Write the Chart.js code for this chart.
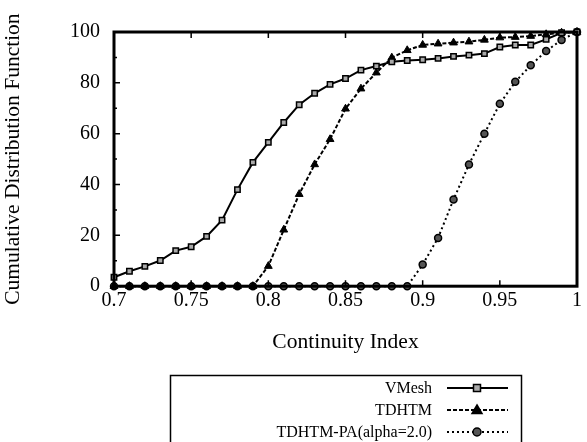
<!DOCTYPE html>
<html>
<head>
<meta charset="utf-8">
<script src="https://cdn.jsdelivr.net/npm/chart.js@4.4.0/dist/chart.umd.min.js"></script>
<style>
html,body{margin:0;padding:0;background:#fff;}
#wrap{width:587px;height:442px;position:relative;}
</style>
</head>
<body>
<div id="wrap"><canvas id="c" width="587" height="442"></canvas></div>
<script>
const xValues = [0.70,0.71,0.72,0.73,0.74,0.75,0.76,0.77,0.78,0.79,0.80,0.81,0.82,0.83,0.84,0.85,0.86,0.87,0.88,0.89,0.90,0.91,0.92,0.93,0.94,0.95,0.96,0.97,0.98,0.99,1.00];
const vmesh = [3.5,5.9,7.8,10.1,14.0,15.5,19.6,26.0,38.0,48.7,56.6,64.4,71.4,75.9,79.4,81.7,85.0,86.6,88.3,88.8,89.1,89.6,90.4,90.9,91.5,94.1,94.9,94.9,97.1,99.7,100];
const tdhtm = [0,0,0,0,0,0,0,0,0,0,7.9,22.2,36.2,47.9,57.8,69.8,77.7,84.0,89.9,92.8,94.9,95.4,95.8,96.2,96.9,97.8,98.0,98.4,99.1,99.7,100];
const tdhtmPa = [0,0,0,0,0,0,0,0,0,0,0,0,0,0,0,0,0,0,0,0,8.5,19.0,34.1,47.9,60.0,71.8,80.4,86.9,92.5,96.9,100];
const seriesNames = ['VMesh','TDHTM','TDHTM-PA(alpha=2.0)'];
const xTicks = [0.7,0.75,0.8,0.85,0.9,0.95,1];
const yTicks = [0,20,40,60,80,100];
const yMinorTicks = [10,30,50,70,90];

const toPts = arr => arr.map((v,i)=>({x:xValues[i], y:v}));
const FONT = "'Liberation Serif','Times New Roman',serif";

const frame = {
  id:'frame',
  afterDatasetsDraw(chart){
    const {ctx, chartArea:a, scales:{x,y}} = chart;
    ctx.save();
    ctx.strokeStyle='#000';
    ctx.lineWidth=1.5;
    ctx.beginPath();
    xTicks.forEach(t=>{
      const px = x.getPixelForValue(t);
      ctx.moveTo(px,a.bottom); ctx.lineTo(px,a.bottom-6);
      ctx.moveTo(px,a.top); ctx.lineTo(px,a.top+6);
    });
    yTicks.forEach(t=>{
      const py = y.getPixelForValue(t);
      ctx.moveTo(a.left,py); ctx.lineTo(a.left+6,py);
    });
    yMinorTicks.forEach(t=>{
      const py = y.getPixelForValue(t);
      ctx.moveTo(a.left,py); ctx.lineTo(a.left+3,py);
    });
    ctx.stroke();
    ctx.lineWidth=3;
    ctx.strokeRect(a.left,a.top,a.right-a.left,a.bottom-a.top);
    ctx.restore();
  },
  afterDraw(chart){
    const ctx = chart.ctx;
    ctx.save();
    ctx.strokeStyle='#000';
    ctx.lineWidth=1.5;
    ctx.strokeRect(170.5,375.5,351,100);
    const rows=[388,410,432];
    ctx.font = "16px "+FONT;
    ctx.fillStyle='#000';
    ctx.textAlign='right';
    ctx.textBaseline='middle';
    chart.data.datasets.forEach((ds,i)=>{
      const yy=rows[i];
      ctx.fillText(ds.label,432,yy+1);
      ctx.setLineDash(ds.borderDash||[]);
      ctx.lineWidth=2;
      ctx.strokeStyle='#000';
      ctx.beginPath(); ctx.moveTo(447,yy); ctx.lineTo(508,yy); ctx.stroke();
      ctx.setLineDash([]);
      const mx=477;
      ctx.lineWidth=1.5;
      ctx.fillStyle=ds.pointBackgroundColor;
      ctx.beginPath();
      if(ds.pointStyle==='rect'){ ctx.rect(mx-3.5,yy-3.5,7,7); }
      else if(ds.pointStyle==='triangle'){ ctx.moveTo(mx,yy-5); ctx.lineTo(mx+5,yy+3.5); ctx.lineTo(mx-5,yy+3.5); ctx.closePath(); }
      else { ctx.arc(mx,yy,4,0,Math.PI*2); }
      ctx.fill(); ctx.stroke();
      ctx.fillStyle='#000';
    });
    ctx.restore();
  }
};

new Chart(document.getElementById('c'),{
  type:'scatter',
  data:{datasets:[
    {label:seriesNames[0],data:toPts(vmesh),showLine:true,borderColor:'#000',borderWidth:2,
     pointStyle:'rect',pointRadius:3.8,pointBackgroundColor:'#aaa',pointBorderColor:'#000',pointBorderWidth:1.5,clip:false},
    {label:seriesNames[1],data:toPts(tdhtm),showLine:true,borderColor:'#000',borderWidth:2,borderDash:[4,2],
     pointStyle:'triangle',pointRadius:4.5,pointBackgroundColor:'#000',pointBorderColor:'#000',pointBorderWidth:1,clip:false},
    {label:seriesNames[2],data:toPts(tdhtmPa),showLine:true,borderColor:'#000',borderWidth:2,borderDash:[2,3],
     pointStyle:'circle',pointRadius:3.5,pointBackgroundColor:'#555',pointBorderColor:'#000',pointBorderWidth:1.5,clip:false}
  ]},
  options:{
    responsive:false,animation:false,
    layout:{padding:{top:32,right:10,bottom:87,left:0}},
    plugins:{legend:{display:false},tooltip:{enabled:false}},
    scales:{
      x:{type:'linear',min:0.7,max:1,
        afterBuildTicks:s=>{s.ticks=xTicks.map(v=>({value:v}));},
        grid:{display:false,drawTicks:false},border:{display:false},
        ticks:{padding:3,color:'#000',font:{family:FONT,size:20},maxRotation:0,
          callback:v=>String(Number(v.toFixed(2)))},
        title:{display:true,text:'Continuity Index',color:'#000',font:{family:FONT,size:21.5},padding:{top:13,bottom:0}}},
      y:{min:0,max:100,
        afterBuildTicks:s=>{s.ticks=yTicks.map(v=>({value:v}));},
        afterFit:s=>{s.width=114;},
        grid:{display:false,drawTicks:false},border:{display:false},
        ticks:{padding:14,color:'#000',font:{family:FONT,size:20}},
        title:{display:true,text:'Cumulative Distribution Function',color:'#000',font:{family:FONT,size:21.5},padding:{top:0,bottom:0}}}
    }
  },
  plugins:[frame]
});
</script>
</body>
</html>
